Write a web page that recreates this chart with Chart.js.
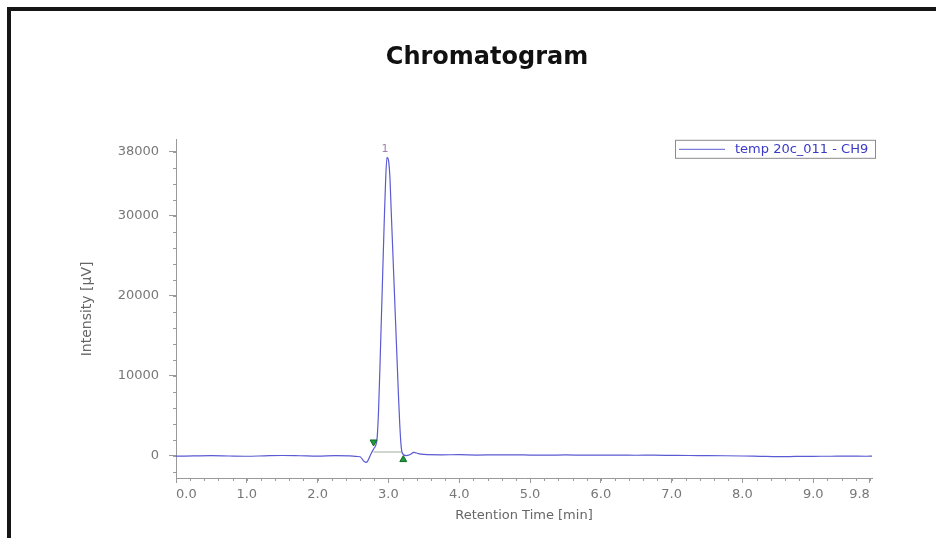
<!DOCTYPE html>
<html>
<head>
<meta charset="utf-8">
<title>Chromatogram</title>
<script src="https://cdn.jsdelivr.net/npm/chart.js@4.4.1/dist/chart.umd.min.js"></script>
<style>
  html, body { margin: 0; padding: 0; background: #fff; overflow: hidden; }
  #frame {
    position: absolute; left: 7px; top: 7px;
    border-top: 4px solid #151515; border-left: 4px solid #151515;
    width: 952px; height: 560px;
  }
  #chart { display: block; }
</style>
</head>
<body>
<div id="frame"><canvas id="chart" width="952" height="560"></canvas></div>
<script>
const retentionTime = [
  0.00, 0.25, 0.50, 0.75, 1.00, 1.25, 1.50, 1.75, 2.00, 2.25,
  2.45, 2.55,
  2.60, 2.63, 2.66, 2.69, 2.72, 2.75, 2.78, 2.80,
  2.82, 2.84, 2.86, 2.88, 2.90, 2.92, 2.94, 2.96, 2.98, 3.00,
  3.02, 3.04, 3.06, 3.08, 3.10, 3.12, 3.14, 3.16, 3.18, 3.20,
  3.25, 3.30, 3.36, 3.42, 3.50,
  3.75, 4.00, 4.25, 4.50, 4.75, 5.00, 5.25, 5.50, 5.75, 6.00,
  6.25, 6.50, 6.75, 7.00, 7.25, 7.50, 7.75, 8.00, 8.25, 8.50,
  8.75, 9.00, 9.25, 9.50, 9.75, 9.83
];
const intensity = [
  -20, 10, 40, 0, -30, 20, 60, 30, -10, 40,
  20, -60,
  -100, -400, -700, -800, -400, 200, 700, 1000,
  1300, 2200, 5500, 11000, 17000, 23000, 29000, 34300, 37300, 37000,
  35000, 30500, 26000, 21500, 17000, 12500, 8000, 4000, 1200, 300,
  50, 150, 450, 300, 200,
  150, 160, 120, 140, 150, 120, 100, 130, 110, 100,
  120, 90, 100, 80, 60, 50, 30, 0, -40, -80,
  -60, -40, -30, -20, -30, -20
];

// début / fin du pic (marqueurs verts) et ligne de base
const markerTime = [2.79, 3.21];
const markerValue = [1750, -450];
const markerRotation = [180, 0];
const baselineTime = [2.79, 3.19];
const baselineValue = [500, 500];

// sommet du pic n°1
const peakTime = 2.98;
const peakValue = 37300;
const peakName = '1';

const xTickValues = [0, 1, 2, 3, 4, 5, 6, 7, 8, 9, 9.8];
const yTickValues = [0, 10000, 20000, 30000, 38000];
const xMinorStep = 0.2;
const yMinorStep = 2000;

const seriesLabel = 'temp 20c_011 - CH9';
const lineColor = '#5a5ad2';
const axisColor = '#9a9a9a';

Chart.defaults.font.family = "'DejaVu Sans', sans-serif";

// petites graduations
const minorTicks = {
  id: 'minorTicks',
  afterDraw(chart) {
    const { ctx, chartArea } = chart;
    const x = chart.scales.x, y = chart.scales.y;
    ctx.save();
    ctx.strokeStyle = axisColor;
    ctx.lineWidth = 1;
    ctx.beginPath();
    for (let v = x.min; v <= x.max + 1e-9; v += xMinorStep) {
      const px = Math.round(x.getPixelForValue(v)) + 0.5;
      ctx.moveTo(px, chartArea.bottom);
      ctx.lineTo(px, chartArea.bottom + 3);
    }
    for (let v = -2000; v <= y.max; v += yMinorStep) {
      const py = Math.round(y.getPixelForValue(v)) + 0.5;
      ctx.moveTo(chartArea.left, py);
      ctx.lineTo(chartArea.left - 3, py);
    }
    ctx.stroke();
    ctx.restore();
  }
};

// étiquette du pic
const peakLabel = {
  id: 'peakLabel',
  afterDatasetsDraw(chart) {
    const { ctx } = chart;
    const px = chart.scales.x.getPixelForValue(peakTime);
    const py = chart.scales.y.getPixelForValue(peakValue);
    ctx.save();
    ctx.font = "11px 'DejaVu Sans'";
    ctx.fillStyle = '#a27fae';
    ctx.textAlign = 'center';
    ctx.textBaseline = 'bottom';
    ctx.fillText(peakName, px - 2, py - 3);
    ctx.restore();
  }
};

// légende encadrée dans le coin haut droit
const boxLegend = {
  id: 'boxLegend',
  afterDraw(chart) {
    const { ctx, chartArea } = chart;
    const w = 200, h = 18;
    const bx = chartArea.right + 3 - w;
    const by = chartArea.top;
    ctx.save();
    ctx.fillStyle = '#fff';
    ctx.fillRect(bx, by, w, h);
    ctx.strokeStyle = '#8a8a8a';
    ctx.lineWidth = 1;
    ctx.strokeRect(bx + 0.5, by + 0.5, w, h);
    ctx.strokeStyle = lineColor;
    ctx.beginPath();
    ctx.moveTo(bx + 4, by + 9.5);
    ctx.lineTo(bx + 50, by + 9.5);
    ctx.stroke();
    ctx.font = "13px 'DejaVu Sans'";
    ctx.fillStyle = '#3a3ac8';
    ctx.textBaseline = 'middle';
    ctx.fillText(chart.data.datasets[0].label, bx + 60, by + 10);
    ctx.restore();
  }
};

new Chart(document.getElementById('chart'), {
  type: 'line',
  data: {
    datasets: [
      {
        label: seriesLabel,
        data: retentionTime.map((t, i) => ({ x: t, y: intensity[i] })),
        borderColor: lineColor,
        borderWidth: 1.2,
        pointRadius: 0,
        cubicInterpolationMode: 'monotone',
        order: 2
      },
      {
        label: 'baseline',
        data: baselineTime.map((t, i) => ({ x: t, y: baselineValue[i] })),
        borderColor: '#9fae9f',
        borderWidth: 1,
        pointRadius: 0,
        order: 3
      },
      {
        label: 'markers',
        type: 'scatter',
        data: markerTime.map((t, i) => ({ x: t, y: markerValue[i] })),
        pointStyle: 'triangle',
        rotation: markerRotation,
        pointRadius: 4,
        backgroundColor: '#1f9a3c',
        borderColor: '#136b27',
        borderWidth: 1,
        order: 1
      }
    ]
  },
  options: {
    responsive: false,
    animation: false,
    layout: { padding: { left: 0, right: 0, top: 0, bottom: 44 } },
    plugins: {
      legend: { display: false },
      tooltip: { enabled: false },
      title: {
        display: true,
        text: 'Chromatogram',
        color: '#111',
        font: { size: 24, weight: 'bold' },
        padding: { top: 32, bottom: 68 }
      }
    },
    scales: {
      x: {
        type: 'linear',
        min: 0,
        max: 9.83,
        afterBuildTicks: s => { s.ticks = xTickValues.map(v => ({ value: v })); },
        afterFit: s => { s.height = 49; },
        border: { color: axisColor, width: 1 },
        grid: { drawOnChartArea: false, color: axisColor, tickLength: 5 },
        ticks: {
          align: 'inner',
          maxRotation: 0,
          autoSkip: false,
          padding: 4,
          color: '#777',
          font: { size: 13 },
          callback: v => v.toFixed(1)
        },
        title: {
          display: true,
          text: 'Retention Time [min]',
          color: '#666',
          font: { size: 13 }
        }
      },
      y: {
        type: 'linear',
        min: -2750,
        max: 39500,
        afterBuildTicks: s => { s.ticks = yTickValues.map(v => ({ value: v })); },
        afterFit: s => { s.width = 165; },
        border: { color: axisColor, width: 1 },
        grid: { drawOnChartArea: false, color: axisColor, tickLength: 7 },
        ticks: {
          padding: 10,
          color: '#777',
          font: { size: 13 },
          callback: v => String(v)
        },
        title: {
          display: true,
          text: 'Intensity [µV]',
          color: '#666',
          font: { size: 14 },
          padding: { top: 68, bottom: 4 }
        }
      },
      // axe vide à droite pour réserver la marge
      yRight: {
        position: 'right',
        display: true,
        afterFit: s => { s.width = 91; },
        border: { display: false },
        grid: { display: false },
        ticks: { display: false }
      }
    }
  },
  plugins: [minorTicks, peakLabel, boxLegend]
});
</script>
</body>
</html>
